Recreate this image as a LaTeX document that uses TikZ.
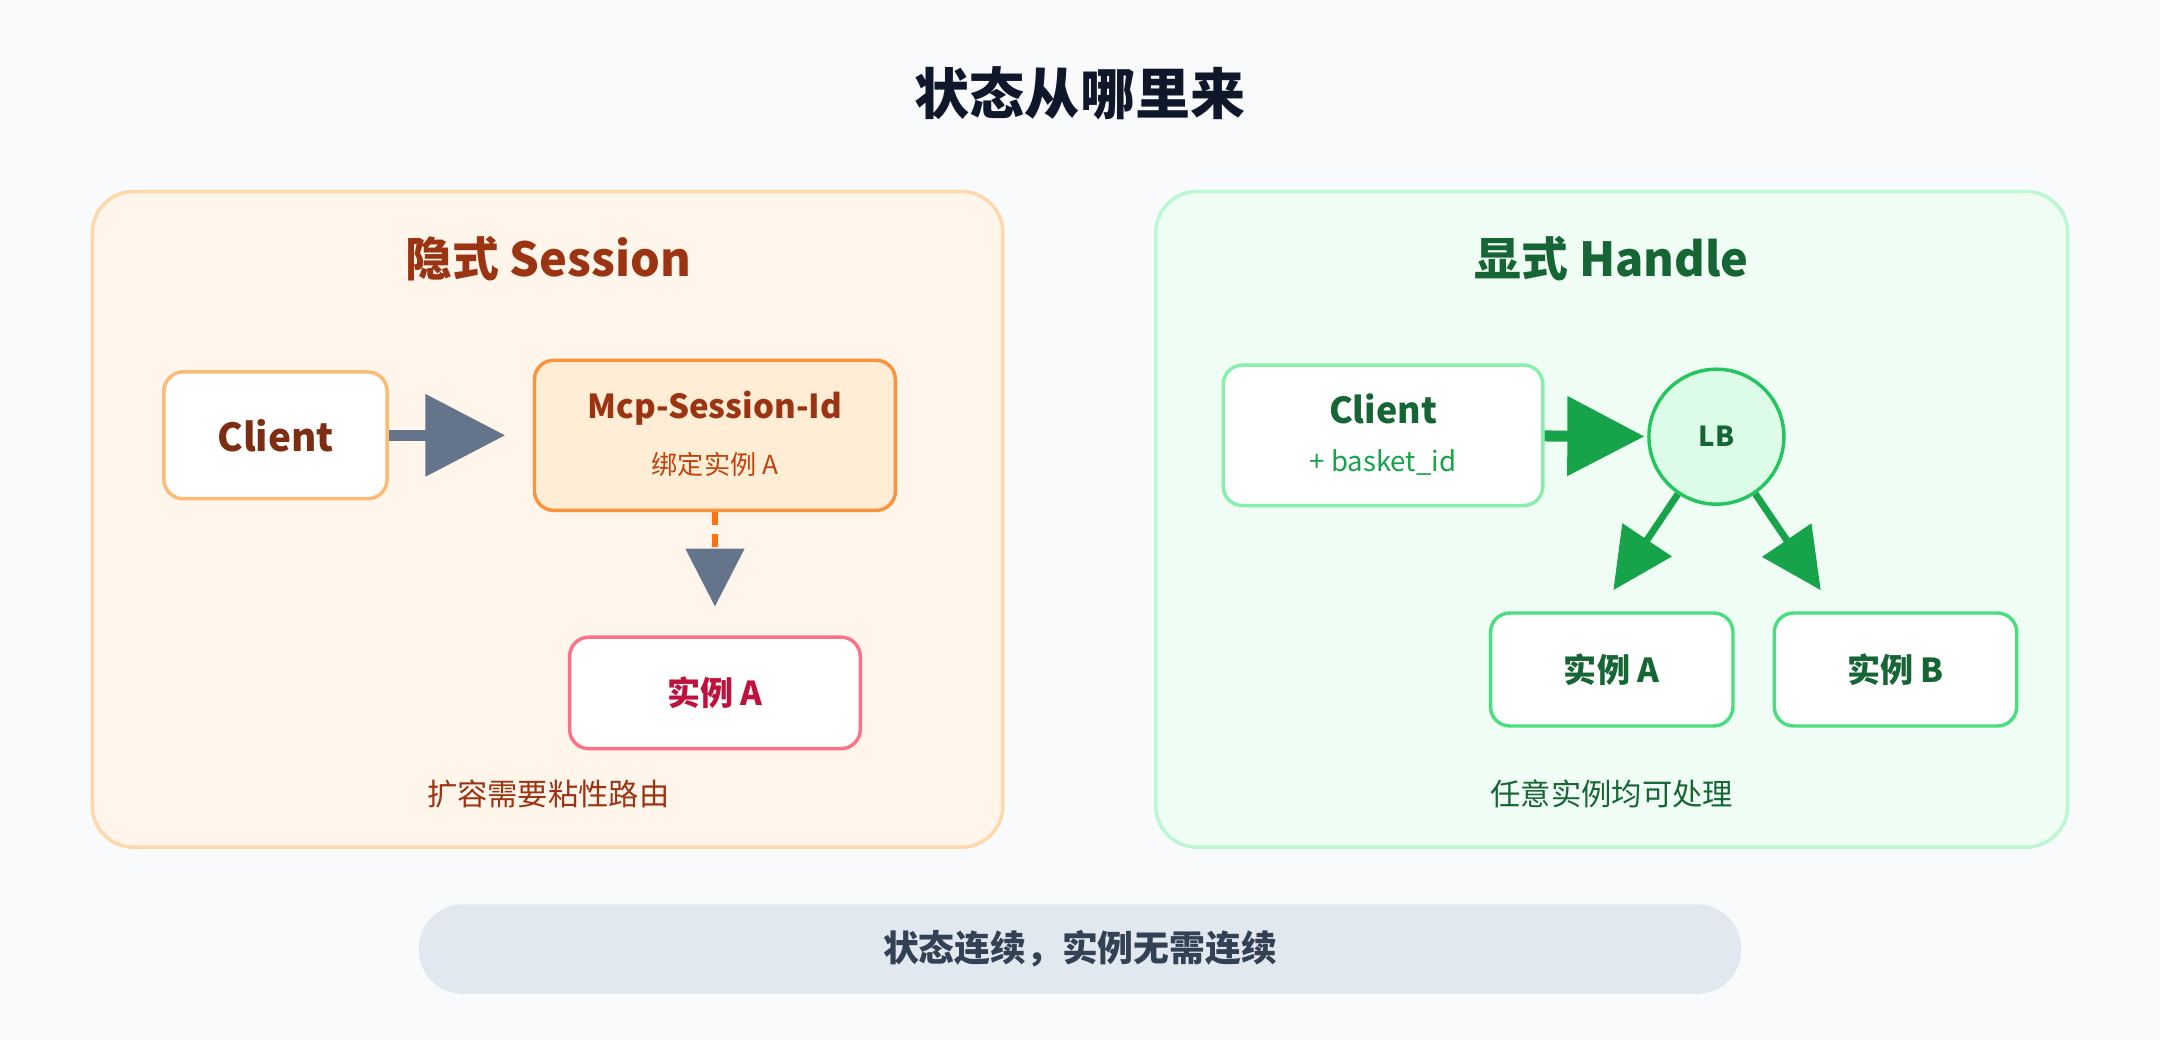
\documentclass[tikz,border=0pt]{standalone}
\usepackage{fontspec}
\setmainfont{Noto Sans CJK SC}
\usetikzlibrary{arrows.meta}
\definecolor{bgc}{HTML}{F8FAFC}
\definecolor{slate}{HTML}{64748B}
\definecolor{ttl}{HTML}{0F172A}
\definecolor{orA}{HTML}{9A3412}
\definecolor{orB}{HTML}{C2410C}
\definecolor{orC}{HTML}{7C2D12}
\definecolor{orDash}{HTML}{F97316}
\definecolor{orPanel}{HTML}{FFF5EB}
\definecolor{orPanelB}{HTML}{FED7AA}
\definecolor{orBox}{HTML}{FDBA74}
\definecolor{orMcp}{HTML}{FB923C}
\definecolor{orMcpF}{HTML}{FFEDD5}
\definecolor{rose}{HTML}{FB7185}
\definecolor{roseT}{HTML}{BE123C}
\definecolor{grA}{HTML}{166534}
\definecolor{grB}{HTML}{16A34A}
\definecolor{grPanel}{HTML}{F0FDF4}
\definecolor{grPanelB}{HTML}{BBF7D0}
\definecolor{grBox}{HTML}{86EFAC}
\definecolor{grLB}{HTML}{22C55E}
\definecolor{grLBF}{HTML}{DCFCE7}
\definecolor{grInst}{HTML}{4ADE80}
\definecolor{pillF}{HTML}{E2E8F0}
\definecolor{pillT}{HTML}{334155}
\newcommand{\fs}[1]{\fontsize{#1}{#1}\selectfont}
\begin{document}
\begin{tikzpicture}[x=1pt,y=-1pt,
  box/.style={draw, line width=2.5pt, rounded corners=14pt, fill=white, align=center, inner sep=0},
  panel/.style={line width=2.5pt, rounded corners=30pt},
  big/.style={line width=8pt, shorten >=20pt}]
\useasboundingbox (0,0) rectangle (1568,755);
\fill[bgc] (0,0) rectangle (1568,755);
\node[font=\fs{40}\bfseries, text=ttl] (title) at (784,68) {状态从哪里来};
% left panel
\draw[panel, draw=orPanelB, fill=orPanel] (67,139) rectangle (728,615);
\node[font=\fs{34}\bfseries, text=orA] (lt) at (398,188) {隐式 Session};
\node[box, draw=orBox, minimum width=162pt, minimum height=92pt, font=\fs{28}\bfseries, text=orC] (c1) at (200,316) {Client};
\node[box, draw=orMcp, fill=orMcpF, minimum width=262pt, minimum height=109pt] (mcp) at (519,316) {};
\node[font=\fs{24}\bfseries, text=orA] (mcpt) at (519,296) {Mcp-Session-Id};
\node[font=\fs{19}, text=orB] (mcps) at (519,337) {绑定实例 A};
\node[box, draw=rose, minimum width=211pt, minimum height=81pt, font=\fs{24}\bfseries, text=roseT] (ia) at (519,503) {实例 A};
\node[font=\fs{22}, text=orA] (lcap) at (398,576) {扩容需要粘性路由};
\draw[big, slate, -{Triangle[length=58pt,width=58pt]}] (c1) -- (mcp);
\draw[line width=4pt, orDash, dash pattern=on 9pt off 7pt, shorten >=21pt, -{Triangle[length=42pt,width=42pt,color=slate,fill=slate]}] (mcp) -- (ia);
% right panel
\draw[panel, draw=grPanelB, fill=grPanel] (839,139) rectangle (1501,615);
\node[font=\fs{34}\bfseries, text=grA] (rt) at (1170,188) {显式 Handle};
\node[box, draw=grBox, minimum width=232pt, minimum height=102pt] (c2) at (1004,316) {};
\node[font=\fs{26}\bfseries, text=grA] (c2t) at (1004,297) {Client};
\node[font=\fs{20}, text=grB] (c2s) at (1004,336) {+ basket\_id};
\node[circle, draw=grLB, line width=2.5pt, fill=grLBF, minimum size=98pt, inner sep=0, font=\fs{20}\bfseries, text=grA] (lb) at (1246,317) {LB};
\node[box, draw=grInst, minimum width=176pt, minimum height=82pt, font=\fs{24}\bfseries, text=grA] (ra) at (1170,486) {实例 A};
\node[box, draw=grInst, minimum width=176pt, minimum height=82pt, font=\fs{24}\bfseries, text=grA] (rb) at (1376,486) {实例 B};
\coordinate (rbt) at (1333,445);
\coordinate (rat) at (1160,445);
\node[font=\fs{22}, text=grA] (rcap) at (1170,576) {任意实例均可处理};
\draw[line width=8pt, grB, shorten >=2pt, -{Triangle[length=56pt,width=56pt]}] (c2) -- (lb);
\draw[line width=5pt, grB, shorten >=20pt, -{Triangle[length=44pt,width=42pt]}] (lb) -- (rat);
\draw[line width=5pt, grB, shorten >=20pt, -{Triangle[length=44pt,width=42pt]}] (lb) -- (rbt);
% bottom
\node[fill=pillF, rounded corners=32pt, minimum width=960pt, minimum height=65pt, font=\fs{26}\bfseries, text=pillT] (pill) at (784,689) {状态连续，实例无需连续};
\end{tikzpicture}
\end{document}
